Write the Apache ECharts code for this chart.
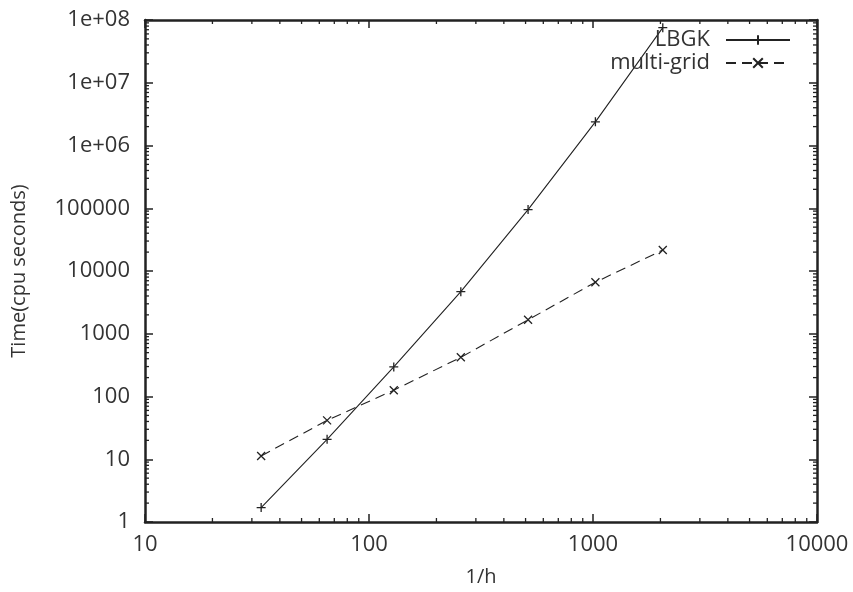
<!DOCTYPE html>
<html>
<head>
<meta charset="utf-8">
<script src="https://cdn.jsdelivr.net/npm/echarts@6/dist/echarts.min.js"></script>
<style>
  html, body { margin: 0; padding: 0; background: #fff; }
  #chart { width: 853px; height: 592px; }
</style>
</head>
<body>
<div id="chart"></div>
<script>
// Grid resolution (1/h) and run times in cpu seconds
const gridSizes = [33, 65, 129, 257, 513, 1025, 2049];
const lbgkTimes = [1.7, 20.8, 296, 4690, 95300, 2.38e6, 7.55e7];
const multiGridTimes = [11.3, 41.6, 126, 421, 1669, 6620, 21550];

const seriesNames = ['LBGK', 'multi-grid'];
const xAxisTitle = '1/h';
const yAxisTitle = 'Time(cpu seconds)';

// Axis ranges and decade positions used for the minor ticks
const xRange = [10, 10000];
const yRange = [1, 1e8];
const xDecades = [10, 100, 1000];
const yDecades = [1, 10, 100, 1000, 10000, 100000, 1e6, 1e7];
const minorSteps = [2, 3, 4, 5, 6, 7, 8, 9];

const INK = '#222';
const TEXT = '#333';
const FONT = 'Open Sans';

function yLabel(v) {
  if (v >= 1e6) {
    const e = Math.round(Math.log10(v));
    return '1e+' + (e < 10 ? '0' + e : e);
  }
  return String(Math.round(v));
}

// minor tick values: [x, y, kind] with kind 0 for x-axis ticks, 1 for y-axis ticks
const minorTicks = [];
xDecades.forEach(d => minorSteps.forEach(m => minorTicks.push([d * m, yRange[0], 0])));
yDecades.forEach(d => minorSteps.forEach(m => minorTicks.push([xRange[0], d * m, 1])));

const pts = (xs, ys) => xs.map((x, i) => [x, ys[i]]);

const frameLine = { show: true, onZero: false, lineStyle: { color: INK, width: 2.5 } };
const majorTick = { show: true, inside: true, length: 8, lineStyle: { color: INK, width: 1.5 } };

const chart = echarts.init(document.getElementById('chart'), null, { renderer: 'canvas' });

chart.setOption({
  animation: false,
  backgroundColor: '#fff',
  textStyle: { fontFamily: FONT },
  grid: { left: 145, right: 36, top: 20, bottom: 69, containLabel: false },
  legend: {
    data: seriesNames,
    orient: 'vertical',
    right: 57,
    top: 24,
    align: 'right',
    itemWidth: 64,
    itemHeight: 12,
    itemGap: 1,
    textStyle: { fontFamily: FONT, fontSize: 22, color: TEXT, padding: [0, 11, 0, 0] },
    selectedMode: false
  },
  xAxis: [
    {
      type: 'log', logBase: 10, min: xRange[0], max: xRange[1], interval: 1,
      position: 'bottom',
      name: xAxisTitle, nameLocation: 'middle', nameGap: 45,
      nameTextStyle: { fontFamily: FONT, fontSize: 20, color: TEXT },
      axisLine: frameLine, axisTick: majorTick,
      axisLabel: { fontFamily: FONT, fontSize: 22, color: TEXT, margin: 12, formatter: v => String(Math.round(v)) },
      splitLine: { show: false }
    },
    {
      type: 'log', logBase: 10, min: xRange[0], max: xRange[1], interval: 1,
      position: 'top',
      axisLine: frameLine, axisTick: majorTick,
      axisLabel: { show: false }, splitLine: { show: false }
    }
  ],
  yAxis: [
    {
      type: 'log', logBase: 10, min: yRange[0], max: yRange[1], interval: 1,
      position: 'left',
      name: yAxisTitle, nameLocation: 'middle', nameGap: 116, nameRotate: 90,
      nameTextStyle: { fontFamily: FONT, fontSize: 20, color: TEXT },
      axisLine: frameLine, axisTick: majorTick,
      axisLabel: { fontFamily: FONT, fontSize: 22, color: TEXT, margin: 15, formatter: yLabel },
      splitLine: { show: false }
    },
    {
      type: 'log', logBase: 10, min: yRange[0], max: yRange[1], interval: 1,
      position: 'right',
      axisLine: frameLine, axisTick: majorTick,
      axisLabel: { show: false }, splitLine: { show: false }
    }
  ],
  series: [
    {
      name: seriesNames[0],
      type: 'line',
      data: pts(gridSizes, lbgkTimes),
      symbol: 'path://M0,5L10,5M5,0L5,10',
      symbolSize: 9,
      color: INK,
      itemStyle: { color: INK, borderColor: INK, borderWidth: 1.3 },
      lineStyle: { color: INK, width: 1.1, type: 'solid' },
      z: 3
    },
    {
      name: seriesNames[1],
      type: 'line',
      data: pts(gridSizes, multiGridTimes),
      symbol: 'path://M0,0L10,10M10,0L0,10',
      symbolSize: 8,
      color: INK,
      itemStyle: { color: INK, borderColor: INK, borderWidth: 1.3 },
      lineStyle: { color: INK, width: 1.1, type: [10, 6] },
      z: 3
    },
    {
      // minor ticks drawn inward on all four sides of the frame
      type: 'custom',
      silent: true,
      data: minorTicks,
      z: 4,
      renderItem: function (params, api) {
        const kind = api.value(2);
        const v = kind === 0 ? api.value(0) : api.value(1);
        const len = 4;
        let a, b;
        if (kind === 0) {
          a = api.coord([v, yRange[0]]);
          b = api.coord([v, yRange[1]]);
          return {
            type: 'group',
            children: [
              { type: 'line', shape: { x1: a[0], y1: a[1], x2: a[0], y2: a[1] - len }, style: { stroke: INK, lineWidth: 1.3 } },
              { type: 'line', shape: { x1: b[0], y1: b[1], x2: b[0], y2: b[1] + len }, style: { stroke: INK, lineWidth: 1.3 } }
            ]
          };
        }
        a = api.coord([xRange[0], v]);
        b = api.coord([xRange[1], v]);
        return {
          type: 'group',
          children: [
            { type: 'line', shape: { x1: a[0], y1: a[1], x2: a[0] + len, y2: a[1] }, style: { stroke: INK, lineWidth: 1.3 } },
            { type: 'line', shape: { x1: b[0], y1: b[1], x2: b[0] - len, y2: b[1] }, style: { stroke: INK, lineWidth: 1.3 } }
          ]
        };
      }
    }
  ]
});
</script>
</body>
</html>
